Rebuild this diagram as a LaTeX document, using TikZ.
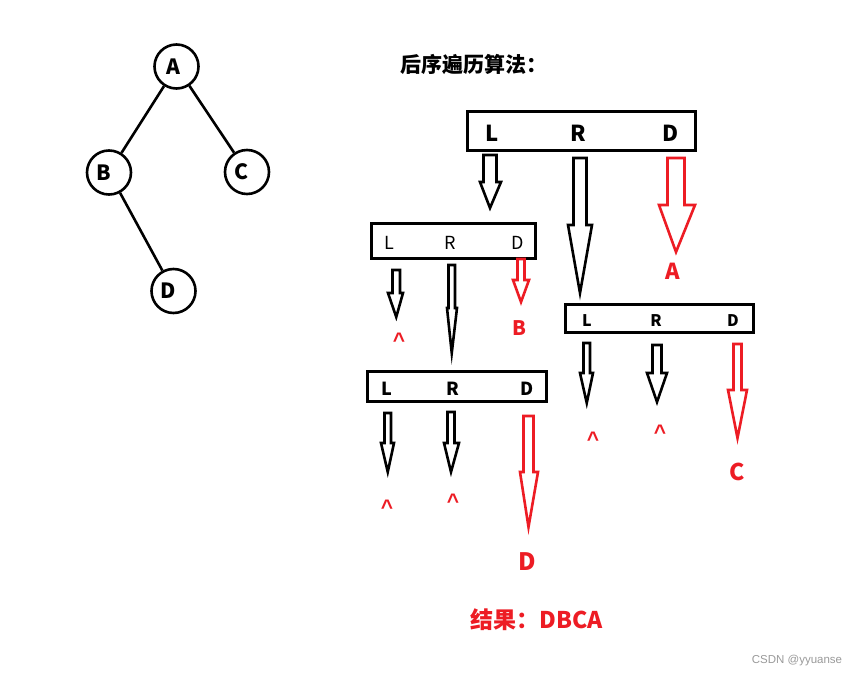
\documentclass[tikz,border=0pt]{standalone}
\usepackage{fontspec}
\setmainfont{Noto Sans CJK SC}
\newfontfamily\wmfont{Liberation Sans}
\definecolor{pred}{HTML}{ED1C24}
\definecolor{wmgray}{HTML}{9A9A9A}
\newcommand{\blkarrow}[8][black]{%
  \draw[#1,line width=2.6pt,line join=miter,miter limit=20]
    (#2,#4) -- (#2,#5) -- (#6,#5) -- ({(#2+#3)/2},#8) -- (#7,#5) -- (#3,#5) -- (#3,#4) -- cycle;}
\tikzset{
  tnode/.style={draw,circle,line width=2.6pt,minimum size=44pt,inner sep=0pt,
    font=\bfseries\fontsize{21}{21}\selectfont},
  edge/.style={line width=2.6pt},
  bx/.style={draw,rectangle,line width=2.6pt,inner sep=0pt},
  labA/.style={font=\bfseries\fontsize{22}{22}\selectfont,inner sep=0pt},
  labB/.style={font=\fontsize{18}{18}\selectfont,inner sep=0pt},
  labC/.style={font=\bfseries\fontsize{18}{18}\selectfont,inner sep=0pt},
  labD/.style={font=\bfseries\fontsize{16}{16}\selectfont,inner sep=0pt},
  res/.style={text=pred,font=\bfseries\fontsize{#1}{#1}\selectfont,inner sep=0pt},
  caret/.style={text=pred,font=\wmfont\bfseries\fontsize{21}{21}\selectfont,inner sep=0pt,anchor=base},
}
\begin{document}
\begin{tikzpicture}[x=1pt,y=-1pt]
\useasboundingbox[fill=white] (0,0) rectangle (859,677);
% tree
\node[tnode] (A) at (176.5,66.5) {\raisebox{-5pt}{A}\hspace*{7pt}};
\node[tnode] (B) at (109,172.5) {\raisebox{-4pt}{B}\hspace*{10pt}};
\node[tnode] (C) at (247,172) {\raisebox{-6pt}{C}\hspace*{11pt}};
\node[tnode] (D) at (173.5,291) {\raisebox{-6pt}{D}\hspace*{10pt}};
\draw[edge] (A) -- (B);
\draw[edge] (A) -- (C);
\draw[edge] (B) -- (D);
% title
\node[font=\bfseries\fontsize{21}{21}\selectfont,inner sep=0pt] (title) at (474,65) {后序遍历算法：};
% box 1
\node[bx,minimum width=228pt,minimum height=39pt] (box1) at (581.5,131) {};
\node[labA] (b1L) at (492,133) {L};
\node[labA] (b1R) at (578,133) {R};
\node[labA] (b1D) at (671,133) {D};
\blkarrow{483.5}{496.5}{155}{182}{480}{501}{208}
\blkarrow{573.5}{586.5}{158}{225}{568}{592}{293}
\blkarrow[pred]{667.5}{684.5}{158}{205}{659}{695}{252}
\node[res=22] (rA) at (673,271) {A};
% box 2
\node[bx,minimum width=164pt,minimum height=35pt] (box2) at (453.5,241) {};
\node[labB] (b2L) at (389,243) {L};
\node[labB] (b2R) at (450,243) {R};
\node[labB] (b2D) at (518,243) {D};
\blkarrow{392.5}{400}{270}{293}{388}{403}{317}
\blkarrow{448.5}{455}{265}{308}{447}{457}{353}
\blkarrow[pred]{517.5}{524.5}{259}{280}{513}{529}{302}
\node[caret] (c1) at (399,347) {\textasciicircum};
\node[res=20] (rB) at (519,328) {B};
% box 3
\node[bx,minimum width=179pt,minimum height=30pt] (box3) at (457,386.5) {};
\node[labC] (b3L) at (387,389) {L};
\node[labC] (b3R) at (453,389) {R};
\node[labC] (b3D) at (527,389) {D};
\blkarrow{384.5}{391}{413}{443}{381}{394}{472}
\blkarrow{447.5}{454.5}{412}{443}{444}{459}{472}
\blkarrow[pred]{523.5}{533.5}{416}{472}{520}{538}{527}
\node[caret] (c2) at (387,514) {\textasciicircum};
\node[caret] (c3) at (453,508) {\textasciicircum};
\node[res=24] (rD) at (527,562) {D};
% box 4
\node[bx,minimum width=188pt,minimum height=28pt] (box4) at (659.5,318.5) {};
\node[labD] (b4L) at (587,321) {L};
\node[labD] (b4R) at (656,321) {R};
\node[labD] (b4D) at (733,321) {D};
\blkarrow{583.5}{590}{343}{373}{580}{593}{403}
\blkarrow{652.5}{661.5}{345}{373}{647}{667}{402}
\blkarrow[pred]{733.5}{741.5}{344}{390}{728}{747}{438}
\node[caret] (c4) at (593,446) {\textasciicircum};
\node[caret] (c5) at (660,439) {\textasciicircum};
\node[res=23] (rC) at (737,472) {C};
% result
\node[res=23] (result) at (537,620) {结果：DBCA};
% watermark
\node[text=wmgray,font=\wmfont\fontsize{11.5}{11.5}\selectfont,inner sep=0pt] (wm) at (797,661) {CSDN @yyuanse};
\end{tikzpicture}
\end{document}
